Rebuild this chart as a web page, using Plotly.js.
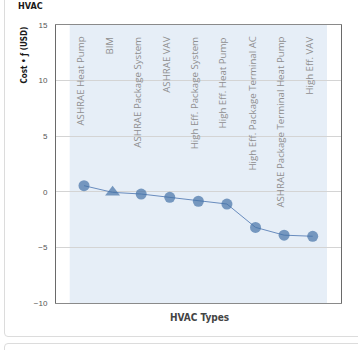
<!DOCTYPE html>
<html>
<head>
<meta charset="utf-8">
<script src="https://cdn.plot.ly/plotly-3.0.1.min.js"></script>
<style>
html,body{margin:0;padding:0;background:#fff;width:358px;height:350px;overflow:hidden;}
#b1{position:absolute;left:4px;top:-6px;width:370px;height:343px;border:1px solid #dcdcdc;border-radius:4px;box-sizing:border-box;}
#b2{position:absolute;left:4px;top:343px;width:370px;height:40px;border:1px solid #dcdcdc;border-radius:4px;box-sizing:border-box;}
#chart{position:absolute;left:0;top:0;width:358px;height:350px;}
</style>
</head>
<body>
<div id="b1"></div>
<div id="b2"></div>
<div id="chart"></div>
<script>
const categories = ["ASHRAE Heat Pump","BIM","ASHRAE Package System","ASHRAE VAV","High Eff. Package System","High Eff. Heat Pump","High Eff. Package Terminal AC","ASHRAE Package Terminal Heat Pump","High Eff. VAV"];
const costs = [0.55, -0.05, -0.2, -0.5, -0.85, -1.1, -3.2, -3.9, -4.0];
const symbols = ["circle","triangle-up","circle","circle","circle","circle","circle","circle","circle"];
const yTicks = [-10, -5, 0, 5, 10, 15];
const chartTitle = "HVAC";
const xTitle = "HVAC Types";
const yTitle = "Cost • ƒ (USD)";

const xs = categories.map((c,i)=>i);
const boldFont = "'DejaVu Sans Condensed', 'Liberation Sans Narrow', 'Arial Narrow', sans-serif";

const annotations = categories.map((c,i)=>({
  x: i, xref:'x', y:1, yref:'paper', text:c, showarrow:false,
  textangle:-90, xanchor:'center', yanchor:'top', yshift:-10, xshift:-4,
  font:{family:"'Open Sans', 'Noto Sans', sans-serif", size:9.7, color:'#8f8f8f'}
}));
annotations.push({x:0, xref:'paper', xshift:-40, y:1, yref:'paper', yshift:26, xanchor:'left', yanchor:'top',
  text:'<b>'+chartTitle+'</b>', showarrow:false, font:{family:boldFont, size:9, color:'#1a1a1a'}});
annotations.push({x:0, xref:'paper', xshift:-32, y:1, yref:'paper', xanchor:'center', yanchor:'top', textangle:-90,
  text:'<b>'+yTitle+'</b>', showarrow:false, font:{family:boldFont, size:8, color:'#1a1a1a'}});
annotations.push({x:0.5, xref:'paper', xshift:1, y:0, yref:'paper', yshift:-7, xanchor:'center', yanchor:'top',
  text:'<b>'+xTitle+'</b>', showarrow:false, font:{family:boldFont, size:10, color:'#444'}});

const trace = {
  x: xs, y: costs, type:'scatter', mode:'lines+markers',
  line:{color:'rgb(105,140,190)', width:1},
  marker:{color:'#4572A7', size:symbols.map(s=>s==='circle'?11:13), symbol:symbols, line:{width:0}},
  hoverinfo:'none'
};

const layout = {
  width:358, height:350,
  margin:{l:56, r:17, t:25, b:47},
  paper_bgcolor:'rgba(0,0,0,0)', plot_bgcolor:'rgba(0,0,0,0)',
  showlegend:false,
  xaxis:{range:[-0.98, 8.99], showticklabels:false, showgrid:false, zeroline:false,
    showline:true, mirror:true, linecolor:'#8a8a8a', linewidth:1, ticks:''},
  yaxis:{range:[-10,15], tickvals:yTicks, showgrid:true, gridcolor:'#d4d4d4', gridwidth:1,
    zeroline:true, zerolinecolor:'#d4d4d4', zerolinewidth:1,
    showline:true, mirror:true, linecolor:'#6a6a6a', linewidth:1, ticks:'',
    ticklabelstandoff:6,
    tickfont:{family:"'Liberation Sans', Arial, sans-serif", size:8, color:'#555'}},
  shapes:[{type:'rect', xref:'x', yref:'paper', x0:-0.5, x1:8.5, y0:0, y1:1,
    fillcolor:'#e6eef7', line:{width:0}, layer:'below'}],
  annotations: annotations
};

Plotly.newPlot('chart', [trace], layout, {staticPlot:true, displayModeBar:false});
</script>
</body>
</html>
